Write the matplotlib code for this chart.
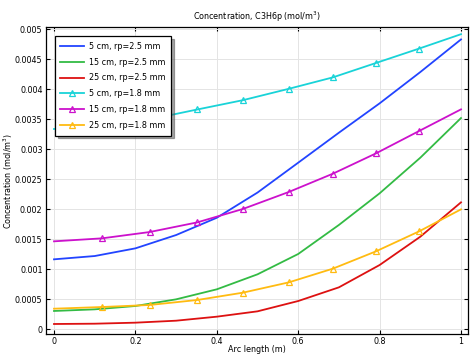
import matplotlib
matplotlib.use('Agg')
import matplotlib.pyplot as plt
import numpy as np

# arc length grid for the rp=2.5 mm curves
x_a = [0.0, 0.1, 0.2, 0.3, 0.4, 0.5, 0.6, 0.7, 0.8, 0.9, 1.0]
blue_5cm = [0.001167, 0.001222, 0.00135, 0.001572, 0.00186, 0.00228, 0.002778, 0.003278, 0.003767, 0.004289, 0.004833]
green_15cm = [0.000306, 0.000333, 0.000389, 0.0005, 0.000667, 0.000917, 0.001256, 0.00174, 0.002267, 0.002861, 0.003522]
red_25cm = [0.000089, 0.000094, 0.000111, 0.000144, 0.000211, 0.0003, 0.000472, 0.0007, 0.001072, 0.001544, 0.002117]

# arc length grid for the rp=1.8 mm curves (markers at inner points)
x_b = [0.0, 0.118, 0.235, 0.352, 0.464, 0.577, 0.685, 0.791, 0.897, 1.0]
cyan_5cm = [0.00334, 0.0034, 0.0035, 0.003665, 0.00382, 0.00401, 0.0042, 0.00444, 0.00468, 0.00492]
mag_15cm = [0.001467, 0.001517, 0.001622, 0.001783, 0.002006, 0.00229, 0.002594, 0.002933, 0.003306, 0.003667]
yel_25cm = [0.000344, 0.000372, 0.000406, 0.000489, 0.000611, 0.000783, 0.001011, 0.0013, 0.001633, 0.002]

xticks = [0, 0.2, 0.4, 0.6, 0.8, 1]
xtick_labels = ['0', '0.2', '0.4', '0.6', '0.8', '1']
yticks = [0, 0.0005, 0.001, 0.0015, 0.002, 0.0025, 0.003, 0.0035, 0.004, 0.0045, 0.005]
ytick_labels = ['0', '0.0005', '0.001', '0.0015', '0.002', '0.0025', '0.003', '0.0035', '0.004', '0.0045', '0.005']

fs = 5.8

fig = plt.figure(figsize=(4.76, 3.57), dpi=100)
ax = fig.add_axes([0.0966, 0.0644, 0.8864, 0.8596])

lw = 1.3
ax.plot(x_a, blue_5cm, color='#2244ff', lw=lw, label='5 cm, rp=2.5 mm')
ax.plot(x_a, green_15cm, color='#33bb44', lw=lw, label='15 cm, rp=2.5 mm')
ax.plot(x_a, red_25cm, color='#dd1111', lw=lw, label='25 cm, rp=2.5 mm')
mk = dict(marker='^', markersize=5, fillstyle='none', markeredgewidth=0.9, markevery=slice(1, -1))
ax.plot(x_b, cyan_5cm, color='#19d3d8', lw=lw, label='5 cm, rp=1.8 mm', **mk)
ax.plot(x_b, mag_15cm, color='#cc11cc', lw=lw, label='15 cm, rp=1.8 mm', **mk)
ax.plot(x_b, yel_25cm, color='#ffbb11', lw=lw, label='25 cm, rp=1.8 mm', **mk)

ax.set_xlim(-0.0197, 1.017)
ax.set_ylim(-0.000078, 0.005038)
ax.set_xticks(xticks)
ax.set_xticklabels(xtick_labels)
ax.set_yticks(yticks)
ax.set_yticklabels(ytick_labels)
ax.tick_params(direction='in', length=3, width=0.8, labelsize=fs, top=True, right=True, pad=2.5)
ax.grid(True, color='#e4e4e4', lw=0.7)
ax.set_axisbelow(True)
for s in ax.spines.values():
    s.set_linewidth(0.9)

ax.set_title('Concentration, C3H6p (mol/m$^3$)', fontsize=fs, pad=5)
ax.set_xlabel('Arc length (m)', fontsize=fs)
ax.set_ylabel('Concentration (mol/m$^3$)', fontsize=fs)
ax.xaxis.set_label_coords(0.5, -0.049)
ax.yaxis.set_label_coords(-0.09, 0.5)
ax.xaxis.label.set_va('center')
ax.yaxis.label.set_va('center')

leg = ax.legend(loc='upper left', fontsize=fs, frameon=True, fancybox=False, shadow=True,
                handlelength=2.9, handletextpad=0.6, borderpad=0.7, labelspacing=0.85,
                borderaxespad=0, bbox_to_anchor=(0.021, 0.971))
leg.get_frame().set_edgecolor('black')
leg.get_frame().set_linewidth(0.9)

fig.savefig('out.png', dpi=100)
